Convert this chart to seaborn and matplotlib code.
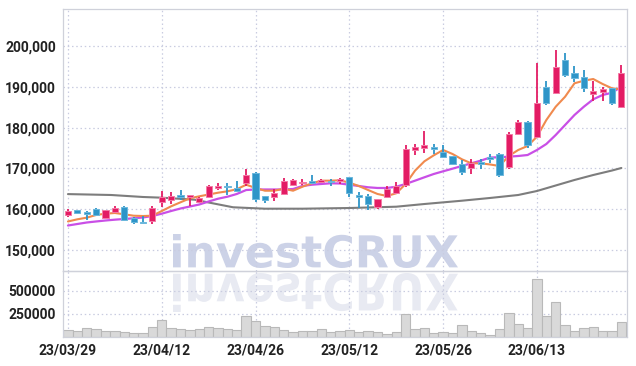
import matplotlib
matplotlib.use("Agg")
import matplotlib.pyplot as plt
import seaborn as sns
import numpy as np
import pandas as pd
from matplotlib.textpath import TextPath
from matplotlib.font_manager import FontProperties
from matplotlib.patches import PathPatch
from matplotlib.transforms import Affine2D, IdentityTransform
from matplotlib.ticker import FuncFormatter

dates = ["23/03/29", "23/03/30", "23/03/31", "23/04/03", "23/04/04", "23/04/05", "23/04/06", "23/04/07",
         "23/04/10", "23/04/11", "23/04/12", "23/04/13", "23/04/14", "23/04/17", "23/04/18", "23/04/19",
         "23/04/20", "23/04/21", "23/04/24", "23/04/25", "23/04/26", "23/04/27", "23/04/28", "23/05/02",
         "23/05/03", "23/05/04", "23/05/08", "23/05/09", "23/05/10", "23/05/11", "23/05/12", "23/05/15",
         "23/05/16", "23/05/17", "23/05/18", "23/05/19", "23/05/22", "23/05/23", "23/05/24", "23/05/25",
         "23/05/26", "23/05/30", "23/05/31", "23/06/01", "23/06/02", "23/06/05", "23/06/07", "23/06/08",
         "23/06/09", "23/06/12", "23/06/13", "23/06/14", "23/06/15", "23/06/16", "23/06/19", "23/06/20",
         "23/06/21", "23/06/22", "23/06/23", "23/06/26"]

opens = [158500, 159800, 159400, 160050, 157900, 159250, 160500, 157900, 156700, 157200,
         161850, 162150, 163500, 163000, 161850, 163100, 165200, 165700, 165200, 166350,
         168950, 163200, 162900, 163700, 165850, 166350, 166850, 166700, 166800, 166850,
         168000, 163400, 163250, 160450, 162900, 163900, 165850, 174500, 175000, 175200,
         174000, 173050, 171100, 170100, 171400, 172850, 173500, 170400, 178450, 181450,
         177800, 190000, 188550, 196550, 193300, 192500, 188250, 188800, 189650, 185100]
highs = [160000, 159900, 159500, 160300, 159800, 160700, 160700, 158000, 158250, 160700,
         164450, 164100, 164600, 163600, 163000, 166000, 166400, 166500, 167000, 169800,
         169000, 163300, 165000, 167600, 167400, 167400, 168300, 167350, 167400, 167600,
         168000, 164150, 163800, 162500, 165800, 166700, 175650, 176000, 179250, 176000,
         175800, 173100, 172100, 172400, 172300, 173600, 173850, 178900, 181950, 181600,
         195750, 191500, 199000, 198200, 195100, 194000, 191500, 190000, 189800, 195350]
lows = [158000, 158750, 157400, 158400, 157700, 159000, 157200, 156300, 156300, 156300,
        160500, 161350, 162200, 160800, 161500, 162900, 164600, 163400, 164300, 165700,
        161800, 161500, 162100, 163500, 165700, 165850, 166200, 166350, 165800, 166200,
        163100, 160300, 159800, 160100, 162800, 163700, 165500, 173400, 173700, 173600,
        172600, 170900, 168500, 168600, 169800, 171400, 167800, 169800, 178200, 175000,
        177500, 185600, 188300, 192500, 191250, 188700, 186600, 186600, 185500, 184900]
closes = [159500, 159150, 158750, 158600, 159700, 160250, 157400, 156800, 156500, 160400,
          163000, 163150, 163000, 163500, 162700, 165700, 165800, 165400, 164500, 168300,
          162600, 162250, 163900, 166850, 167150, 166700, 166350, 167150, 166600, 167500,
          164050, 163100, 161300, 162400, 165000, 165700, 174800, 175300, 175800, 174850,
          172900, 171100, 169100, 171400, 171100, 172400, 168400, 178400, 181450, 175750,
          186100, 185950, 194900, 192900, 192250, 189800, 189050, 189550, 185950, 193300]
volumes = [75000, 64300, 96400, 89300, 67800, 67800, 57100, 46400, 46400, 107100,
           182100, 96400, 85700, 78600, 85700, 107100, 96400, 85700, 75000, 225000,
           175000, 117800, 107100, 78600, 57100, 64300, 64300, 85700, 50000, 60700,
           78600, 50000, 64300, 50000, 35700, 57100, 250000, 89300, 96400, 46400,
           57100, 46400, 128600, 64300, 42900, 21400, 85700, 257100, 139300, 100000,
           632000, 225000, 375000, 128600, 64300, 96400, 107100, 64300, 64300, 160700]
ma5 = [156990, 157520, 157920, 158580, 158900, 159070, 158750, 158400, 158330, 158400,
       159560, 160710, 161690, 162670, 163160, 163600, 164040, 164390, 164880, 166000,
       165200, 164530, 164530, 165020, 164530, 165510, 166350, 166990, 166990, 167080,
       166500, 165690, 164700, 163730, 163240, 163900, 166180, 169440, 171740, 173210,
       174510, 173530, 172230, 171250, 171250, 170960, 170590, 173040, 174510, 175490,
       177770, 181860, 185120, 187570, 190860, 191500, 191910, 190690, 189630, 189390]
ma20 = [156000, 156370, 156740, 156990, 157230, 157430, 157600, 157770, 157970, 158330,
        158900, 159560, 160170, 160660, 161150, 161890, 162570, 163060, 163730, 164700,
        164830, 164830, 164830, 164830, 164950, 165690, 166000, 166180, 166350, 166300,
        166000, 165690, 165370, 165200, 165200, 165510, 166180, 166990, 167820, 168630,
        169290, 169930, 170590, 171250, 171890, 172670, 172720, 172870, 173040, 173280,
        174510, 175980, 178190, 180640, 183090, 185120, 186940, 187990, 188550, 190020]
ma60_idx = [0, 4.6, 8, 10, 13.5, 15, 17.6, 21, 25, 30, 35, 38, 42, 45, 48, 50, 52, 54, 56, 58, 59]
ma60 = [163700, 163480, 162990, 162820, 162330, 161640, 160470, 160120, 160120, 160290, 160610,
        161270, 162080, 162750, 163480, 164460, 165810, 167160, 168380, 169480, 170100]
price_ticks = [150000, 160000, 170000, 180000, 190000, 200000]
volume_ticks = [250000, 500000]

RED = "#e31c64"
RED_EDGE = "#f47ba6"
BLUE = "#2e95c8"
BLUE_EDGE = "#6cb8dc"
GRID = "#c9cce0"
SPINE = "#cfd1da"

sns.set_theme(style="white")
plt.rcParams["font.family"] = ["Roboto", "DejaVu Sans"]

W, H = 636, 366
fig = plt.figure(figsize=(W / 100, H / 100), dpi=100)
fig.patch.set_facecolor("white")

# watermark (drawn behind axes)
fp = FontProperties(family="DejaVu Sans", weight="bold")
tp = TextPath((0, 0), "investCRUX", size=1, prop=fp)
bb = tp.get_extents()
sx = (458 - 173) / bb.width
tr_main = Affine2D().translate(-bb.x0, -bb.y0).scale(sx, (132 - 98) / bb.height).translate(173, 98)
tr_refl = Affine2D().translate(-bb.x0, -bb.y0).scale(sx, -(93 - 54) / bb.height).translate(173, 93)
p1 = PathPatch(tr_main.transform_path(tp), facecolor="#ccd2e7", edgecolor="none",
               transform=IdentityTransform(), zorder=-1)
p2 = PathPatch(tr_refl.transform_path(tp), facecolor="#e8eaf2", edgecolor="none",
               transform=IdentityTransform(), zorder=-1)
fig.add_artist(p1)
fig.add_artist(p2)

left = 63 / W
width = (627 - 63) / W
ax = fig.add_axes([left, (H - 271) / H, width, (271 - 9) / H])
axv = fig.add_axes([left, (H - 337) / H, width, (337 - 271) / H], sharex=ax)
for a in (ax, axv):
    a.set_facecolor("none")
    for s in a.spines.values():
        s.set_color(SPINE)
        s.set_linewidth(0.9)

idx = np.arange(len(dates))
o = np.array(opens); c = np.array(closes); hi = np.array(highs); lo = np.array(lows)
up = c >= o
colors = np.where(up, RED, BLUE)
edges = np.where(up, RED_EDGE, BLUE_EDGE)

# grid
xt = list(range(0, len(dates), 10))
for a in (ax, axv):
    a.set_xticks(xt)
    a.grid(True, color=GRID, linestyle=(0, (1.2, 2.2)), linewidth=0.9)
    a.set_axisbelow(True)

# MA lines
sns.lineplot(x=ma60_idx, y=ma60, ax=ax, color="#7d7d7d", linewidth=1.5, zorder=2)
sns.lineplot(x=idx, y=ma20, ax=ax, color="#c94fe6", linewidth=1.6, zorder=2)
sns.lineplot(x=idx, y=ma5, ax=ax, color="#f08a4e", linewidth=1.5, zorder=2)

# candles
ax.vlines(idx, lo, hi, colors=colors, linewidth=1.3, zorder=3)
body_lo = np.minimum(o, c)
body_h = np.maximum(np.abs(c - o), 400)
ax.bar(idx, body_h, bottom=body_lo, width=0.66, color=colors, edgecolor=edges, linewidth=0.7, zorder=4)

ax.set_ylim(144850, 209070)
ax.set_yticks(price_ticks)
ax.yaxis.set_major_formatter(FuncFormatter(lambda v, p: f"{int(v):,}"))
ax.set_xlim(-0.53, 59.6)
ax.tick_params(axis="x", labelbottom=False, length=0)
ax.tick_params(axis="y", length=0, pad=5, labelsize=10, labelcolor="#222222")
ax.set_xlabel(""); ax.set_ylabel("")

# volume
vdf = pd.DataFrame({"i": idx, "v": volumes})
sns.barplot(data=vdf, x="i", y="v", ax=axv, native_scale=True, width=1.0, color="#d9d9d9",
            edgecolor="#b9b9b9", linewidth=0.8, saturation=1, errorbar=None, zorder=2)
axv.set_ylim(0, 717000)
axv.set_yticks(volume_ticks)
axv.yaxis.set_major_formatter(FuncFormatter(lambda v, p: f"{int(v)}"))
axv.set_xlim(-0.53, 59.6)
axv.set_xticks(xt)
axv.set_xticklabels([dates[i] for i in xt])
axv.tick_params(axis="both", length=0, labelsize=10, labelcolor="#222222")
axv.tick_params(axis="y", pad=5)
axv.tick_params(axis="x", pad=5)
axv.set_xlabel(""); axv.set_ylabel("")
for lab in ax.get_yticklabels() + axv.get_yticklabels() + axv.get_xticklabels():
    lab.set_fontweight("bold")

fig.savefig("out.png", dpi=100)
